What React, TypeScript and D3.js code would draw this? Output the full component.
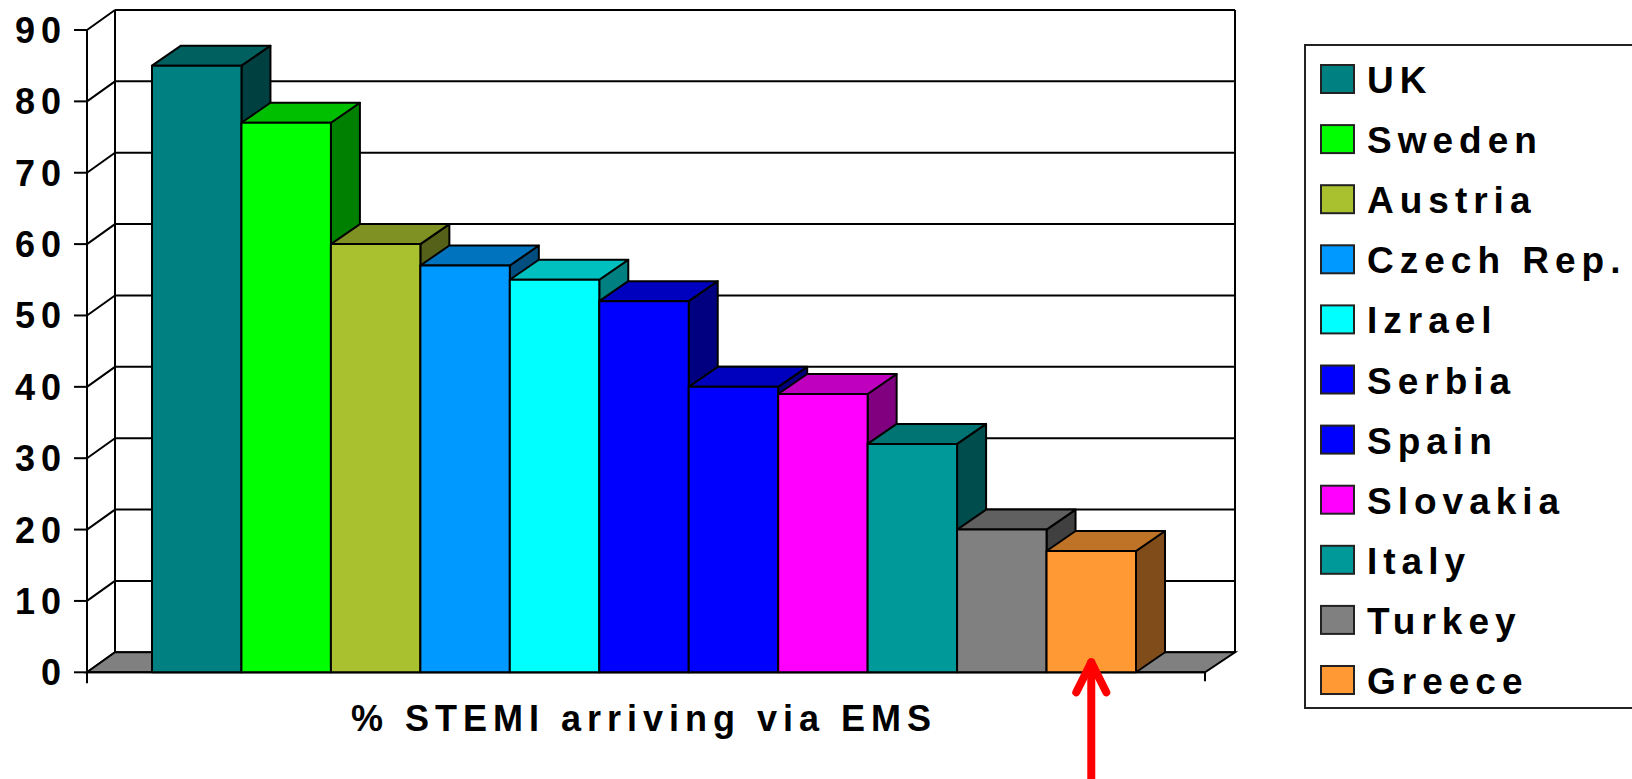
import React from "react";
import * as d3 from "d3";

// Share of STEMI patients arriving via EMS, by country
const countries = [
  "UK", "Sweden", "Austria", "Czech Rep.", "Izrael", "Serbia",
  "Spain", "Slovakia", "Italy", "Turkey", "Greece",
];
const values = [85, 77, 60, 57, 55, 52, 40, 39, 32, 20, 17];
const colors = [
  "#008080", "#00FF00", "#AAC12F", "#0099FF", "#00FFFF", "#0000FF",
  "#0000FF", "#FF00FF", "#009999", "#808080", "#FF9933",
];
const yTicks = [0, 10, 20, 30, 40, 50, 60, 70, 80, 90];
const axisTitle = "% STEMI arriving via EMS";
const highlighted = "Greece";

const W = 1632;
const H = 779;
const FONT = "'Liberation Sans', Arial, Helvetica, sans-serif";

// Oblique depth offset of the 3D box
const DX = 28;
const DY = -20;
const BAR_DX = 29;

const shade = (c: string, k: number) => {
  const r = d3.rgb(c);
  return d3.rgb(r.r * k, r.g * k, r.b * k).formatHex();
};

export default function App() {
  const y = d3.scaleLinear().domain([0, 90]).range([672.3, 30]);
  const x = d3.scaleBand<string>().domain(countries).range([152, 1136]).padding(0);
  const floorLeft = 87;
  const floorRight = 1205;
  const y0 = y(0);
  const yTop = y(90);

  const bars = countries.map((c, i) => {
    const x0 = x(c)!;
    const x1 = x0 + x.bandwidth();
    const yt = y(values[i]);
    const front = `M${x0},${y0}L${x0},${yt}L${x1},${yt}L${x1},${y0}Z`;
    const top = `M${x0},${yt}L${x0 + BAR_DX},${yt + DY}L${x1 + BAR_DX},${yt + DY}L${x1},${yt}Z`;
    const side = `M${x1},${yt}L${x1 + BAR_DX},${yt + DY}L${x1 + BAR_DX},${y0 + DY}L${x1},${y0}Z`;
    return { c, front, top, side, color: colors[i] };
  });

  const hx = x(highlighted)! + x.bandwidth() / 2;

  return (
    <svg
      width={W}
      height={H}
      style={{ position: "absolute", left: 0, top: 0, background: "#fff" }}
      fontFamily={FONT}
      fontWeight="bold"
    >
      {/* back wall */}
      <g stroke="#000" strokeWidth={2} fill="none">
        {yTicks.map((t) => (
          <line key={`g${t}`} x1={floorLeft + DX} x2={floorRight + DX + 2} y1={y(t) + DY} y2={y(t) + DY} />
        ))}
        <line x1={floorLeft + DX} x2={floorLeft + DX} y1={yTop + DY} y2={y0 + DY} />
        <line x1={floorRight + DX + 2} x2={floorRight + DX + 2} y1={yTop + DY} y2={y0 + DY} />
        {/* left wall diagonals */}
        {yTicks.map((t) => (
          <line key={`d${t}`} x1={floorLeft} y1={y(t)} x2={floorLeft + DX} y2={y(t) + DY} />
        ))}
      </g>

      {/* floor */}
      <path
        d={`M${floorLeft},${y0}L${floorLeft + DX},${y0 + DY}L${floorRight + DX + 2},${y0 + DY}L${floorRight},${y0}Z`}
        fill="#808080"
        stroke="#000"
        strokeWidth={2}
      />

      {/* front axis */}
      <g stroke="#000" strokeWidth={2}>
        <line x1={floorLeft} x2={floorLeft} y1={yTop} y2={y0 + 11} />
        <line x1={floorLeft} x2={floorRight} y1={y0} y2={y0} />
        <line x1={floorRight} x2={floorRight} y1={y0} y2={y0 + 9} />
        {yTicks.map((t) => (
          <line key={`t${t}`} x1={floorLeft - 13} x2={floorLeft} y1={y(t)} y2={y(t)} />
        ))}
      </g>
      {yTicks.map((t) => (
        <text
          key={`l${t}`}
          x={67}
          y={y(t)}
          dy="0.36em"
          textAnchor="end"
          fontSize={36}
          letterSpacing={6}
          fill="#000"
        >
          {t}
        </text>
      ))}

      {/* bars */}
      {bars.map((b) => (
        <g key={b.c} stroke="#000" strokeWidth={2} strokeLinejoin="round">
          <path d={b.side} fill={shade(b.color, 0.5)} />
          <path d={b.top} fill={shade(b.color, 0.75)} />
          <path d={b.front} fill={b.color} />
        </g>
      ))}

      {/* axis title */}
      <text
        x={644}
        y={731}
        textAnchor="middle"
        fontSize={36}
        letterSpacing={6}
        fill="#000"
      >
        {axisTitle}
      </text>

      {/* legend */}
      <rect x={1305} y={45} width={360} height={663} fill="#fff" stroke="#222" strokeWidth={2} />
      {countries.map((c, i) => {
        const top = 65 + i * 60.1;
        return (
          <g key={`lg${c}`}>
            <rect x={1321} y={top} width={33} height={28} fill={colors[i]} stroke="#222" strokeWidth={2} />
            <text x={1367} y={top + 28} fontSize={37} letterSpacing={6} fill="#000">
              {c}
            </text>
          </g>
        );
      })}

      {/* pointer to the highlighted country */}
      <g stroke="#FF0000" strokeWidth={8} strokeLinecap="round" strokeLinejoin="round" fill="none">
        <line x1={hx} x2={hx} y1={H + 5} y2={y0 - 10} />
        <polyline points={`${hx - 15},${y0 + 20} ${hx},${y0 - 10} ${hx + 15},${y0 + 20}`} />
      </g>
    </svg>
  );
}
